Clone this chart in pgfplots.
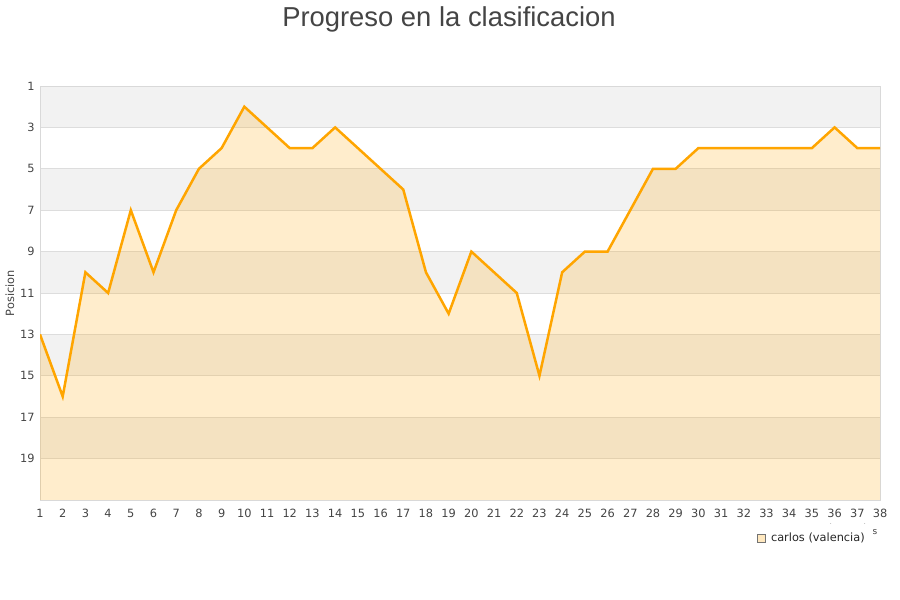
\documentclass[border=0pt]{standalone}
\usepackage{pgfplots}
\pgfplotsset{compat=1.18}
\usepgfplotslibrary{fillbetween}
\usepackage{fontspec}
\setmainfont{DejaVu Sans}
\newfontfamily\titlefont{Liberation Sans}

\definecolor{lineOrange}{HTML}{FFA500}
\definecolor{bandGrey}{HTML}{F2F2F2}
\definecolor{gridGrey}{HTML}{DDDDDD}
\definecolor{frameGrey}{HTML}{D9D9D9}
\definecolor{textGrey}{HTML}{444444}

\pgfplotstableread{
x pos
1 13
2 16
3 10
4 11
5 7
6 10
7 7
8 5
9 4
10 2
11 3
12 4
13 4
14 3
15 4
16 5
17 6
18 10
19 12
20 9
21 10
22 11
23 15
24 10
25 9
26 9
27 7
28 5
29 5
30 4
31 4
32 4
33 4
34 4
35 4
36 3
37 4
38 4
}\posdata

\begin{document}
\begin{tikzpicture}
\path (0,0) rectangle (900bp,600bp);

\node[anchor=base, font=\titlefont\fontsize{27.5}{30}\selectfont, text=textGrey]
  at (449bp,573bp) {Progreso en la clasificacion};

\begin{axis}[
  set layers,
  at={(40bp,100bp)}, anchor=south west,
  width=840bp, height=414bp, scale only axis,
  xmin=1, xmax=38, ymin=1, ymax=21,
  y dir=reverse,
  xtick={1,...,38},
  ytick={1,3,...,19},
  major tick length=0pt,
  ymajorgrids,
  grid style={gridGrey, line width=0.8bp},
  axis line style={frameGrey, line width=0.8bp},
  tick label style={font=\fontsize{11.4}{13}\selectfont, text=textGrey},
  /pgf/number format/assume math mode=true,
  xticklabel style={yshift=-6bp},
  yticklabel style={xshift=-2bp},
  ylabel={Posicion},
  ylabel style={font=\fontsize{11.4}{13}\selectfont, text=textGrey, yshift=-1bp},
  legend style={at={(0.988,-0.092)}, anchor=east, draw=none, fill=none,
    font=\fontsize{11.4}{13}\selectfont, text=black!85},
  legend cell align=left,
  band/.style={fill=bandGrey, draw=none, forget plot, on layer=axis background},
]
\addplot[band] coordinates {(1,1) (38,1) (38,3) (1,3)} -- cycle;
\addplot[band] coordinates {(1,5) (38,5) (38,7) (1,7)} -- cycle;
\addplot[band] coordinates {(1,9) (38,9) (38,11) (1,11)} -- cycle;
\addplot[band] coordinates {(1,13) (38,13) (38,15) (1,15)} -- cycle;
\addplot[band] coordinates {(1,17) (38,17) (38,19) (1,19)} -- cycle;

\addplot[name path=pos, lineOrange, line width=2.5bp, forget plot] table[x=x, y=pos] {\posdata};
\addplot[name path=base, draw=none, forget plot] coordinates {(1,21) (38,21)};
\addplot[fill=lineOrange, fill opacity=0.2, draw=none, forget plot] fill between[of=pos and base];

\addlegendimage{legend image code/.code={
  \draw[draw=black!55, fill=lineOrange!25, line width=0.6bp] (-4bp,-4bp) rectangle (4bp,4bp);}}
\addlegendentry{\hspace{3bp}carlos (valencia)}
\end{axis}

\node[font=\fontsize{9}{10}\selectfont, text=textGrey] at (875bp,68bp) {s};
\node[inner sep=0pt, font=\fontsize{5}{5}\selectfont, text=textGrey] at (831bp,76bp) {.};
\node[inner sep=0pt, font=\fontsize{5}{5}\selectfont, text=textGrey] at (865bp,76bp) {.};
\end{tikzpicture}
\end{document}
